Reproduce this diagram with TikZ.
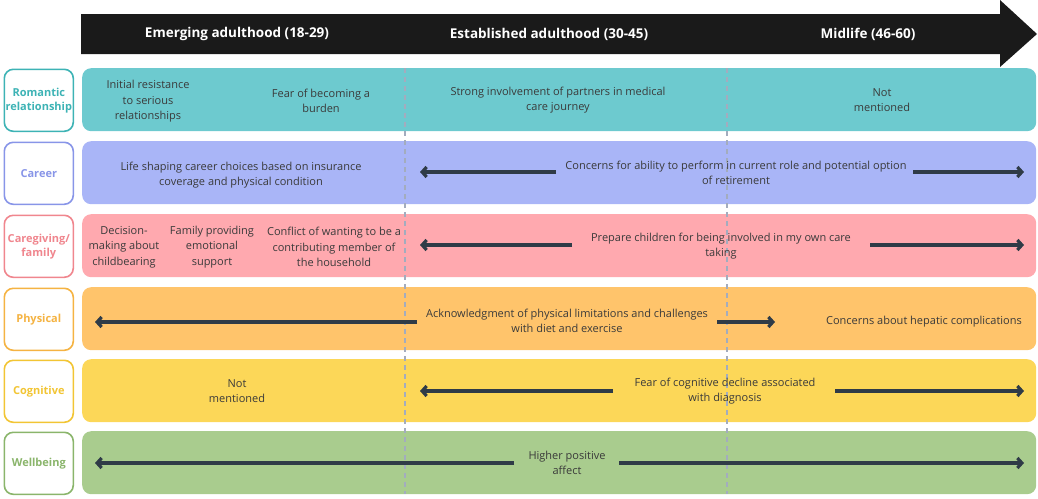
\documentclass[tikz,border=0pt]{standalone}
\usepackage{fontspec}
\setmainfont{Open Sans}
\usetikzlibrary{arrows.meta}
\definecolor{hdrc}{HTML}{1A1A1A}
\definecolor{txtc}{HTML}{3A3A3A}
\definecolor{arrc}{HTML}{2F3B47}
\definecolor{sepc}{HTML}{A3ACBE}
\definecolor{tealR}{HTML}{6DCACF}\definecolor{tealL}{HTML}{3DB3B5}
\definecolor{careR}{HTML}{A9B5F7}\definecolor{careL}{HTML}{8895E8}
\definecolor{pinkR}{HTML}{FFA9AF}\definecolor{pinkL}{HTML}{F0868E}
\definecolor{oranR}{HTML}{FFC46B}\definecolor{oranL}{HTML}{F5B342}
\definecolor{yellR}{HTML}{FCD758}\definecolor{yellL}{HTML}{F2C534}
\definecolor{greeR}{HTML}{A9CC8E}\definecolor{greeL}{HTML}{8AB56B}
\begin{document}
\begin{tikzpicture}[x=1pt,y=-1pt,
  rowbox/.style={rounded corners=9pt, draw=none, minimum width=954pt, minimum height=63pt, anchor=north west, inner sep=0pt},
  lab/.style={fill=white, rounded corners=9pt, line width=1.6pt, minimum width=69pt, minimum height=62pt, font=\bfseries\fontsize{11}{14}\selectfont, align=center, inner sep=0pt, anchor=north west},
  txt/.style={font=\fontsize{11}{15.5}\selectfont, text=txtc, align=center, inner sep=0pt},
  arr/.style={draw=arrc, line width=3.2pt, -{Straight Barb[length=4.5pt,width=10pt]}},
  hdr/.style={font=\bfseries\fontsize{13.5}{16}\selectfont, text=white, inner sep=0pt},
  sep/.style={draw=sepc, line width=1.4pt, dash pattern=on 5pt off 4pt}
]
\useasboundingbox (0,0) rectangle (1038,498);
% header arrow
\fill[hdrc] (81,14) -- (1000,14) -- (1000,0) -- (1037,34) -- (1000,67) -- (1000,54) -- (81,54) -- cycle;
\node[hdr] (h1) at (237,34) {Emerging adulthood (18-29)};
\node[hdr] (h2) at (549,34) {Established adulthood (30-45)};
\node[hdr] (h3) at (868,34) {Midlife (46-60)};
% rows
\node[rowbox, fill=tealR] (r1) at (82,68) {};
\node[rowbox, fill=careR] (r2) at (82,141) {};
\node[rowbox, fill=pinkR] (r3) at (82,214) {};
\node[rowbox, fill=oranR] (r4) at (82,287) {};
\node[rowbox, fill=yellR] (r5) at (82,359) {};
\node[rowbox, fill=greeR] (r6) at (82,431) {};
% labels
\node[lab, draw=tealL, text=tealL] (l1) at (3.5,68.5) {Romantic\\relationship};
\node[lab, draw=careL, text=careL] (l2) at (3.5,141.5) {Career};
\node[lab, draw=pinkL, text=pinkL] (l3) at (3.5,214.5) {Caregiving/\\family};
\node[lab, draw=oranL, text=oranL] (l4) at (3.5,287.5) {Physical};
\node[lab, draw=yellL, text=yellL] (l5) at (3.5,359.5) {Cognitive};
\node[lab, draw=greeL, text=greeL] (l6) at (3.5,431.5) {Wellbeing};
% dashed separators
\coordinate (d1t) at (405,68); \coordinate (d1b) at (405,494);
\coordinate (d2t) at (727,68); \coordinate (d2b) at (727,494);
\draw[sep] (d1t) -- (d1b);
\draw[sep] (d2t) -- (d2b);
% row 1
\node[txt] (t1a) at (148,101.5) {Initial resistance\\to serious\\relationships};
\node[txt] (t1b) at (321,101) {Fear of becoming a\\burden};
\node[txt] (t1c) at (558,100) {Strong involvement of partners in medical\\care journey};
\node[txt] (t1d) at (882,100) {Not\\mentioned};
% row 2
\node[txt] (t2a) at (241,175) {Life shaping career choices based on insurance\\coverage and physical condition};
\node[txt] (t2b) at (736,173) {Concerns for ability to perform in current role and potential option\\of retirement};
\coordinate (a2s) at (556,172); \coordinate (a2e) at (420,172);
\coordinate (b2s) at (913,172); \coordinate (b2e) at (1024,172);
\draw[arr] (a2s) -- (a2e);
\draw[arr] (b2s) -- (b2e);
% row 3
\node[txt] (t3a) at (124,247) {Decision-\\making about\\childbearing};
\node[txt] (t3b) at (212,247) {Family providing\\emotional\\support};
\node[txt] (t3c) at (334,247) {Conflict of wanting to be a\\contributing member of\\the household};
\node[txt] (t3d) at (721,246) {Prepare children for being involved in my own care\\taking};
\coordinate (a3s) at (572,245); \coordinate (a3e) at (420,245);
\coordinate (b3s) at (870,245); \coordinate (b3e) at (1024,245);
\draw[arr] (a3s) -- (a3e);
\draw[arr] (b3s) -- (b3e);
% row 4
\node[txt] (t4a) at (567,321) {Acknowledgment of physical limitations and challenges\\with diet and exercise};
\node[txt] (t4b) at (924,322) {Concerns about hepatic complications};
\coordinate (a4s) at (417,322); \coordinate (a4e) at (95,322);
\coordinate (b4s) at (717,322); \coordinate (b4e) at (775,322);
\draw[arr] (a4s) -- (a4e);
\draw[arr] (b4s) -- (b4e);
% row 5
\node[txt] (t5a) at (237,391) {Not\\mentioned};
\node[txt] (t5b) at (725,391) {Fear of cognitive decline associated\\with diagnosis};
\coordinate (a5s) at (613,391); \coordinate (a5e) at (420,391);
\coordinate (b5s) at (835,391); \coordinate (b5e) at (1024,391);
\draw[arr] (a5s) -- (a5e);
\draw[arr] (b5s) -- (b5e);
% row 6
\node[txt] (t6a) at (567,463) {Higher positive\\affect};
\coordinate (a6s) at (514,463); \coordinate (a6e) at (95,463);
\coordinate (b6s) at (619,463); \coordinate (b6e) at (1024,463);
\draw[arr] (a6s) -- (a6e);
\draw[arr] (b6s) -- (b6e);
\end{tikzpicture}
\end{document}
